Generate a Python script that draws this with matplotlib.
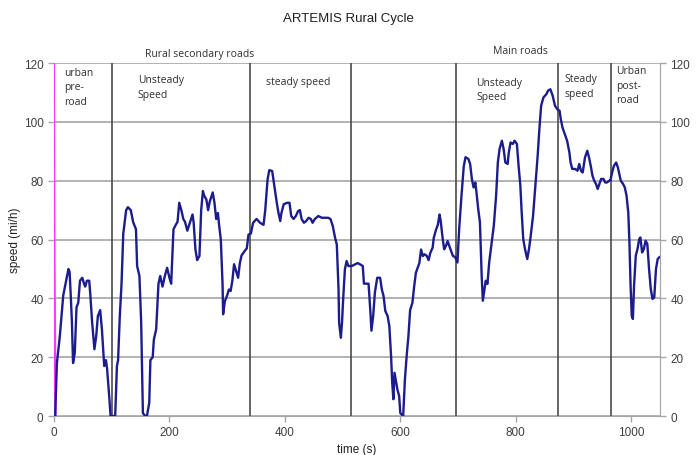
import numpy as np
from matplotlib import pyplot as plt

# ARTEMIS rural cycle: speed trace (mi/h) against time (s)
time_s = [0, 2, 5, 10, 16, 19, 25, 27, 29, 31, 33, 36, 39, 42, 45, 49, 52, 54, 57, 61,
          63, 66, 70, 73, 76, 80, 83, 87, 90, 92, 96, 98, 106, 109, 111, 114, 117, 120, 125, 128,
          133, 137, 142, 144, 148, 151, 154, 158, 161, 165, 167, 171, 173, 177, 181, 184, 188, 192, 196, 200,
          203, 207, 211, 214, 217, 221, 224, 227, 231, 236, 240, 242, 245, 248, 252, 255, 258, 260, 264, 267,
          270, 275, 278, 281, 284, 286, 289, 292, 293, 296, 300, 303, 306, 309, 312, 316, 319, 322, 325, 330,
          334, 337, 341, 345, 351, 357, 363, 366, 370, 373, 378, 381, 386, 389, 392, 394, 398, 404, 408, 411,
          415, 419, 423, 426, 429, 433, 437, 441, 445, 448, 452, 458, 464, 470, 475, 479, 483, 487, 490, 493,
          494, 497, 499, 501, 504, 507, 510, 516, 522, 526, 530, 535, 537, 545, 548, 550, 553, 556, 560, 565,
          568, 571, 574, 578, 581, 584, 586, 588, 590, 592, 595, 598, 600, 605, 608, 611, 614, 617, 621, 624,
          627, 630, 633, 636, 639, 642, 646, 649, 652, 656, 658, 662, 665, 668, 670, 673, 676, 679, 682, 686,
          691, 695, 699, 702, 706, 710, 713, 718, 721, 724, 727, 730, 732, 735, 738, 741, 743, 746, 748, 751,
          754, 757, 760, 762, 766, 769, 772, 776, 779, 782, 786, 788, 791, 795, 798, 802, 805, 808, 810, 813,
          816, 820, 823, 826, 830, 832, 835, 838, 841, 844, 848, 853, 856, 860, 864, 868, 872, 876, 878, 881,
          885, 889, 893, 895, 898, 903, 907, 910, 913, 916, 920, 924, 927, 930, 933, 936, 939, 942, 945, 948,
          952, 955, 958, 962, 964, 967, 970, 974, 977, 980, 982, 986, 989, 992, 995, 997, 999, 1001, 1003, 1005,
          1008, 1011, 1014, 1016, 1019, 1022, 1025, 1028, 1031, 1034, 1037, 1040, 1043, 1046, 1049]
speed = [0, 0, 18, 27, 41, 44, 50, 49, 41, 32, 18, 21.5, 37, 38.5, 46, 47, 45, 44, 46, 46,
         41, 32, 22.7, 27, 34, 36, 29.5, 17, 19, 16, 5.7, 0, 0, 17, 19, 34, 45, 62, 70, 71,
         70, 66, 63.5, 51, 47.6, 32, 1, 0, 0, 4.5, 19, 20, 26, 29.5, 45, 47.6, 44, 47.6, 50.4, 47,
         45, 63.5, 65, 66, 72.5, 69.7, 67, 66, 63, 66, 68.5, 65.7, 56.7, 53, 54.4, 70, 76.5, 75, 73.6, 70,
         73, 76, 72.5, 67, 69, 65, 60, 45, 34.6, 39, 41, 43, 42.5, 46, 51.6, 49, 47, 52, 54.6, 56,
         57, 61.7, 62, 65.7, 67, 65.7, 65, 70, 80.4, 83.6, 83.3, 79.3, 72.5, 69, 66.3, 69, 72, 72.5, 72.5, 68,
         67, 68, 69.7, 70, 67, 65.7, 66.3, 67.4, 67, 65.7, 67, 68, 67.4, 67.4, 67.4, 67, 64.6, 60.6, 58.3, 43,
         31.7, 26.6, 31.7, 39.7, 49.9, 52.7, 51, 51, 51.6, 52, 51.6, 51, 45, 45, 36, 29, 34, 42, 47, 47,
         43, 40.8, 35.7, 34, 30.6, 20.4, 11.3, 5.7, 14.7, 12.5, 9, 6.8, 1, 0, 12.5, 20.4, 27, 36, 38.5, 44,
         48.7, 50.4, 52, 56.6, 54.4, 55, 54.4, 53, 55.5, 57.2, 60.6, 63.4, 65, 68.5, 66.3, 61, 56.7, 57.8, 59.5, 57.2,
         54.5, 54, 52.2, 63.6, 74.9, 85, 88, 87.4, 85.7, 80.6, 77.7, 79.4, 76, 70.4, 65.8, 47.7, 39.2, 43.2, 46, 44.9,
         52.2, 56.8, 61.3, 64.7, 74.9, 86.2, 90.8, 93.6, 90.8, 86.2, 85.7, 89.6, 93, 92.5, 93.6, 92.5, 85, 78.3, 70.4, 60.2,
         56.8, 53.4, 56.8, 61.3, 68, 73.2, 80.6, 88.5, 97.6, 105.5, 108.3, 109.4, 110.6, 111.1, 108.9, 105.5, 104.3, 103.8, 101, 98.1,
         95.9, 93.6, 89.6, 86.2, 84, 84, 83.4, 85.7, 83.4, 82.8, 87.9, 90.2, 87.9, 85, 81.7, 80, 78.9, 77.2, 78.9, 80.6,
         80.6, 79.4, 79.4, 80, 80, 82.8, 85, 86.2, 84.5, 81.7, 80, 78.9, 77.7, 74.9, 69.2, 59, 44.3, 34.1, 33, 44.3,
         54.5, 56.8, 60.2, 60.7, 55.6, 56.8, 59.6, 58.5, 50, 43.2, 39.8, 40.3, 50, 53.4, 54]

# second trace, only visible at the very start
marker_t = [0, 0, 1, 3]
marker_v = [0, 120, 58, 0]

# section boundaries (s)
sections = [101, 340, 514, 697, 873, 965]

fig = plt.figure(figsize=(6.96, 4.56), dpi=100)
ax = fig.add_axes([0.0776, 0.0855, 0.8707, 0.774])

ax.set_xlim(0, 1050)
ax.set_ylim(0, 120)
ax.set_yticks(np.arange(0, 121, 20))
ax.set_xticks(np.arange(0, 1001, 200))
ax.yaxis.grid(True, color='#a6a6a6', linewidth=1.2)
ax.set_axisbelow(True)

for s in sections:
    ax.axvline(s, color='#4a4a4a', linewidth=1.2, zorder=1)

ax.plot(marker_t, marker_v, color='#ff33ff', linewidth=1.3, zorder=2)
ax.plot(time_s, speed, color='#1c1c8e', linewidth=1.7, zorder=3)

ax.spines['top'].set_visible(False)
ax.spines['left'].set_visible(False)
ax.spines['right'].set_color('#a6a6a6')
ax.spines['bottom'].set_color('#a6a6a6')

tickfont = dict(family='Liberation Sans', size=8.5)
ax.tick_params(axis='both', colors='#a6a6a6', labelcolor='#404040', length=4, width=1)
for lab in ax.get_xticklabels() + ax.get_yticklabels():
    lab.set_fontproperties(tickfont)

ax2 = ax.twinx()
ax2.set_ylim(0, 120)
ax2.set_yticks(np.arange(0, 121, 20))
ax2.tick_params(axis='y', colors='#a6a6a6', labelcolor='#404040', length=4, width=1)
for lab in ax2.get_yticklabels():
    lab.set_fontproperties(tickfont)
for side in ['top', 'left', 'bottom']:
    ax2.spines[side].set_visible(False)
ax2.spines['right'].set_color('#a6a6a6')

ax.set_xlabel('time (s)', fontdict=tickfont, color='#202020', labelpad=3)
ax.set_ylabel('speed (mi/h)', fontdict=tickfont, color='#202020', labelpad=2)
fig.text(0.5, 0.958, 'ARTEMIS Rural Cycle', ha='center', va='center',
         family='Liberation Sans', size=9.5, color='#202020')

# section labels
nf = dict(family='Open Sans', size=7.5, color='#303030', linespacing=1.45)
ax.text(17, 118.7, 'urban\npre-\nroad', ha='left', va='top', **nf)
ax.text(145, 116.3, 'Unsteady\nSpeed', ha='left', va='top', **nf)
ax.text(367, 113.6, 'steady speed', ha='left', va='center', **nf)
ax.text(732, 115.3, 'Unsteady\nSpeed', ha='left', va='top', **nf)
ax.text(884, 116.5, 'Steady\nspeed', ha='left', va='top', **nf)
ax.text(974, 119.3, 'Urban\npost-\nroad', ha='left', va='top', **nf)
ax.text(253, 123.2, 'Rural secondary roads', ha='center', va='center', clip_on=False, **nf)
ax.text(809, 124.3, 'Main roads', ha='center', va='center', clip_on=False, **nf)

plt.savefig('out.png', dpi=100)
